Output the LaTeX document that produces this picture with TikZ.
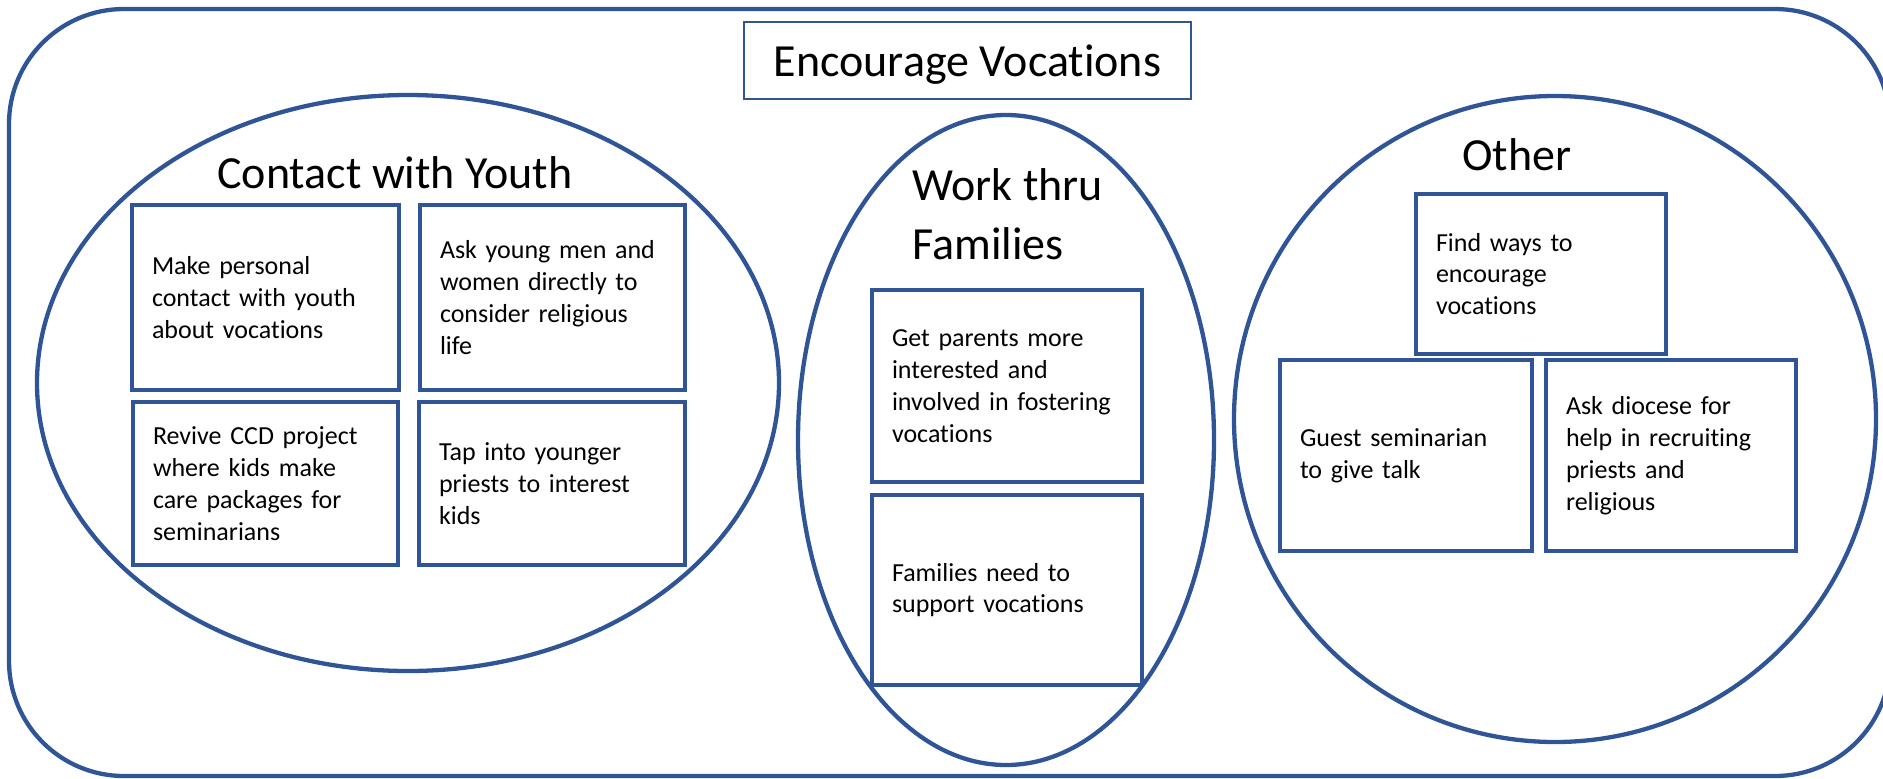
\documentclass[tikz,border=0pt]{standalone}
\usepackage{fontspec}
\setmainfont[Ligatures={NoCommon}]{Carlito}
\usepackage{tikz}
\usetikzlibrary{shapes.geometric,positioning}
\definecolor{vocblue}{RGB}{47,85,151}
\tikzset{frame/.style={draw=vocblue, line width=2.15pt, rounded corners=57.5pt, outer sep=0pt},
group/.style={ellipse, draw=vocblue, line width=2.15pt, inner sep=0pt},
idea/.style={rectangle, draw=vocblue, fill=white, line width=1.75pt, inner xsep=10pt, inner ysep=0pt,
             outer sep=0pt, align=left, font=\fontsize{13pt}{15.9pt}\selectfont},
heading/.style={inner sep=0pt, align=left, font=\fontsize{23pt}{29.5pt}\selectfont}
}

\begin{document}
\begin{tikzpicture}[x=0.5pt, y=-0.5pt]
        \useasboundingbox (0,0) rectangle (1883,778);

        \node[frame, minimum width=940.5pt, minimum height=383.5pt] (board) at (949.5,392.5) {};
        \node[heading, draw=vocblue, line width=0.75pt, minimum width=223.5pt, minimum height=38.5pt,
              text depth=0pt] (title) at (967.5,60.5) {Encourage Vocations};

        \node[group, minimum width=371pt, minimum height=288pt] (youth)    at (408,383)  {};
        \node[group, minimum width=208pt, minimum height=325pt] (families) at (1006,440) {};
        \node[group, minimum width=321pt, minimum height=323pt] (other)    at (1555,419) {};

        \node[heading, anchor=base west] (youthhead)    at (217,188)  {Contact with Youth};
        \node[heading, anchor=base west] (familieshead) at (912,259)  {Work thru\\Families};
        \node[heading, anchor=base west] (otherhead)    at (1462,170) {Other};

        \node[idea, text width=113.5pt, minimum height=92.5pt] (personal) at (265.5,297.5)
              {Make personal\\contact with youth\\about vocations};
        \node[idea, text width=112.5pt, minimum height=92.5pt] (askyoung) [right=10.5pt of personal]
              {Ask young men and\\women directly to\\consider religious\\life};
        \node[idea, text width=112.5pt, minimum height=81.5pt] (carepack) [below=6pt of personal]
              {Revive CCD project\\where kids make\\care packages for\\seminarians};
        \node[idea, text width=113pt, minimum height=81.5pt]   (priests)  [right=10.5pt of carepack]
              {Tap into younger\\priests to interest\\kids};

        \node[idea, text width=115pt, minimum height=96pt] (parents) at (1007,386)
              {Get parents more\\interested and\\involved in fostering\\vocations};
        \node[idea, text width=115pt, minimum height=95pt] (support) [below=6.5pt of parents]
              {Families need to\\support vocations};

        \node[idea, text width=105pt, minimum height=80pt]   (findways) at (1541,274)
              {Find ways to\\encourage\\vocations};
        \node[idea, text width=106pt, minimum height=95.5pt] (guest)    at (1406,455.5)
              {Guest seminarian\\to give talk};
        \node[idea, text width=105pt, minimum height=95.5pt] (diocese)  [right=7pt of guest]
              {Ask diocese for\\help in recruiting\\priests and\\religious};
\end{tikzpicture}
\end{document}
